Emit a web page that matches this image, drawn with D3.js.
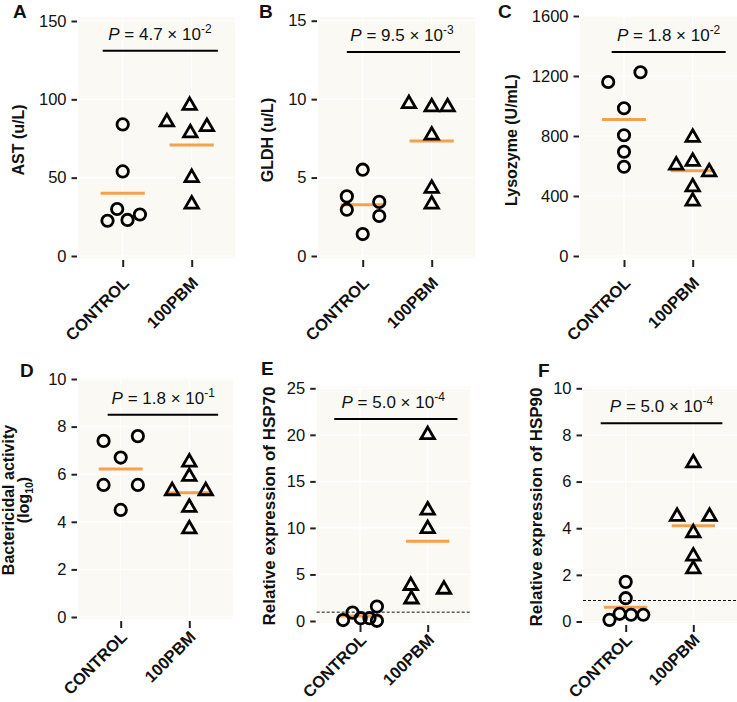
<!DOCTYPE html>
<html>
<head>
<meta charset="utf-8">
<script src="https://cdn.jsdelivr.net/npm/d3@7"></script>
<style>
  html, body { margin: 0; padding: 0; background: #fff; }
  #chart { width: 737px; height: 702px; }
  text { font-family: "Liberation Sans", Arial, sans-serif; fill: #111; }
</style>
</head>
<body>
<div id="chart"></div>
<script>
const categories = ["CONTROL", "100PBM"];
const panelLetters = ["A", "B", "C", "D", "E", "F"];
const yTitles = [
  ["AST (u/L)"],
  ["GLDH (u/L)"],
  ["Lysozyme (U/mL)"],
  ["Bactericidal activity", "(log10)"],
  ["Relative expression of HSP70"],
  ["Relative expression of HSP90"],
];
const yTicks = [
  [0, 50, 100, 150],
  [0, 5, 10, 15],
  [0, 400, 800, 1200, 1600],
  [0, 2, 4, 6, 8, 10],
  [0, 5, 10, 15, 20, 25],
  [0, 2, 4, 6, 8, 10],
];

// measured values, [CONTROL, 100PBM]
const astValues = [[84, 54, 30, 22.5, 23, 26.5], [96, 85.5, 78.5, 82.5, 50, 33]];
const gldhValues = [[5.5, 3.8, 2.95, 3.45, 2.55, 1.4], [9.7, 9.5, 9.5, 7.7, 4.3, 3.3]];
const lysozymeValues = [[1160, 1225, 985, 805, 695, 595], [790, 605, 630, 560, 460, 365]];
const bactericidalValues = [[7.4, 7.6, 6.7, 5.55, 5.55, 4.5], [6.5, 5.9, 5.3, 5.3, 4.6, 3.7]];
const hsp70Values = [[0.1, 0.9, 0.3, 0.3, 1.55, 0.02], [20, 11.9, 9.9, 3.8, 2.35, 3.4]];
const hsp90Values = [[1.7, 1.0, 0.07, 0.33, 0.29, 0.29], [6.8, 4.5, 4.5, 3.8, 2.8, 2.25]];

// horizontal dodge of each point, in category units
const astDodge = [[0, 0, -0.08, -0.22, 0.07, 0.25], [-0.03, -0.36, -0.02, 0.22, 0, 0]];
const gldhDodge = [[0, -0.23, -0.23, 0.24, 0.24, 0], [-0.33, 0, 0.23, 0, 0, 0]];
const lysozymeDodge = [[-0.23, 0.24, 0, 0, 0, 0], [0, -0.24, 0, 0.24, 0, 0]];
const bactericidalDodge = [[-0.25, 0.25, 0, -0.25, 0.25, 0], [0, 0, -0.25, 0.24, 0, 0]];
const hsp70Dodge = [[-0.25, -0.11, 0.01, 0.14, 0.25, 0.25], [0, 0, 0, -0.25, -0.24, 0.24]];
const hsp90Dodge = [[0, 0, -0.24, -0.09, 0.08, 0.26], [0, -0.24, 0.24, 0, 0, 0]];

const panelValues = [astValues, gldhValues, lysozymeValues, bactericidalValues, hsp70Values, hsp90Values];
const panelDodge = [astDodge, gldhDodge, lysozymeDodge, bactericidalDodge, hsp70Dodge, hsp90Dodge];

const pMantissa = ["4.7", "9.5", "1.8", "1.8", "5.0", "5.0"];
const pExponent = ["-2", "-3", "-2", "-1", "-4", "-4"];
const sigLineY = [131, 13, 1360, 8.5, 21.7, 8.5];
const sigLineSpan = [[0.71, 2.38], [0.77, 2.41], [0.82, 2.48], [0.81, 2.42], [0.62, 2.44], [0.63, 2.43]];
const pTextX = [1.54, 1.57, 1.65, 1.62, 1.49, 1.53];
const refLineY = [null, null, null, null, 0.95, 0.9];

// page layout of each panel (pixels)
const layout = [
  { x0: 78, x1: 235, top: 17, bottom: 258, zeroY: 256, maxY: 21, cx: [122.7, 191.7], titleX: [18], titleY: 140, letter: [13, 18], labelDy: 24, titleSize: 16 },
  { x0: 318, x1: 475, top: 17, bottom: 258, zeroY: 256, maxY: 20.7, cx: [362.7, 431.7], titleX: [267], titleY: 140, letter: [259, 18], labelDy: 24, titleSize: 16 },
  { x0: 580, x1: 737, top: 16, bottom: 258, zeroY: 256, maxY: 16, cx: [624, 692.7], titleX: [511], titleY: 140, letter: [498, 18], labelDy: 24, titleSize: 16 },
  { x0: 78, x1: 233, top: 378, bottom: 619, zeroY: 617, maxY: 379, cx: [120.7, 189.3], titleX: [8, 23], titleY: 500, letter: [20, 377], labelDy: 17, titleSize: 16 },
  { x0: 316.7, x1: 470, top: 386.7, bottom: 623, zeroY: 621, maxY: 388.3, cx: [360, 427.7], titleX: [269], titleY: 506, letter: [261, 375], labelDy: 16, titleSize: 17 },
  { x0: 583, x1: 737, top: 386.7, bottom: 623, zeroY: 621.5, maxY: 388.3, cx: [625.7, 693.3], titleX: [536], titleY: 507, letter: [538, 377], labelDy: 16, titleSize: 17 },
];

const panelFill = "#FAF9F3";
const meanColor = "#F5A04E";

const svg = d3
  .select("#chart")
  .append("svg")
  .attr("width", 737)
  .attr("height", 702)
  .attr("viewBox", "0 0 737 702");

layout.forEach((L, i) => {
  const g = svg.append("g");
  const y = d3
    .scaleLinear()
    .domain([0, d3.max(yTicks[i])])
    .range([L.zeroY, L.maxY]);
  const x = d3.scaleLinear().domain([1, 2]).range(L.cx);

  g.append("rect")
    .attr("x", L.x0)
    .attr("y", L.top)
    .attr("width", L.x1 - L.x0)
    .attr("height", L.bottom - L.top)
    .attr("fill", panelFill);

  // grid
  g.selectAll(".hgrid")
    .data(yTicks[i])
    .join("line")
    .attr("x1", L.x0)
    .attr("x2", L.x1)
    .attr("y1", (d) => y(d))
    .attr("y2", (d) => y(d))
    .attr("stroke", "#fff")
    .attr("stroke-width", 1.2);
  g.selectAll(".vgrid")
    .data([1, 2])
    .join("line")
    .attr("x1", (d) => x(d))
    .attr("x2", (d) => x(d))
    .attr("y1", L.top)
    .attr("y2", L.bottom)
    .attr("stroke", "#fff")
    .attr("stroke-width", 1.2);

  // y axis
  const yAxis = g
    .append("g")
    .attr("transform", `translate(${L.x0 - 1},0)`)
    .call(
      d3
        .axisLeft(y)
        .tickValues(yTicks[i])
        .tickFormat(d3.format("d"))
        .tickSize(5.5)
        .tickPadding(5),
    );
  yAxis.select(".domain").remove();
  yAxis.selectAll("line").attr("stroke", "#222").attr("stroke-width", 2);
  yAxis
    .selectAll("text")
    .style("font-family", '"Liberation Sans", Arial, sans-serif')
    .style("font-size", "16.5px")
    .attr("fill", "#111");

  // x axis
  const xAxis = g
    .append("g")
    .attr("transform", `translate(0,${L.bottom + 2})`)
    .call(
      d3
        .axisBottom(x)
        .tickValues([1, 2])
        .tickSize(7)
        .tickFormat((d) => categories[d - 1]),
    );
  xAxis.select(".domain").remove();
  xAxis.selectAll("line").attr("stroke", "#222").attr("stroke-width", 2);
  xAxis
    .selectAll("text")
    .attr("x", 0)
    .attr("y", 0)
    .attr("dy", 0)
    .attr("transform", `translate(7,${L.labelDy}) rotate(-45)`)
    .attr("text-anchor", "end")
    .style("font-family", '"Liberation Sans", Arial, sans-serif')
    .style("font-size", "16.5px")
    .style("font-weight", "bold")
    .attr("fill", "#111");

  // y title
  const title = g
    .append("text")
    .attr("transform", `translate(0,${L.titleY}) rotate(-90)`)
    .attr("text-anchor", "middle")
    .style("font-size", `${L.titleSize}px`)
    .style("font-weight", "bold");
  yTitles[i].forEach((line, k) => {
    const t = title
      .append("tspan")
      .attr("x", 0)
      .attr("y", L.titleX[k])
      .attr("dy", "0.36em");
    const m = line.match(/^\(log(\d+)\)$/);
    if (m) {
      t.text("(log");
      title.append("tspan").attr("dy", "4").style("font-size", "10.5px").text(m[1]);
      title.append("tspan").attr("dy", "-4").text(")");
    } else {
      t.text(line);
    }
  });

  // panel letter
  g.append("text")
    .attr("x", L.letter[0])
    .attr("y", L.letter[1])
    .style("font-size", "19px")
    .style("font-weight", "bold")
    .text(panelLetters[i]);

  // reference line
  if (refLineY[i] != null) {
    g.append("line")
      .attr("x1", L.x0)
      .attr("x2", L.x1)
      .attr("y1", y(refLineY[i]))
      .attr("y2", y(refLineY[i]))
      .attr("stroke", "#111")
      .attr("stroke-width", 1)
      .attr("stroke-dasharray", "3,2");
  }

  // means
  g.selectAll(".mean")
    .data(panelValues[i])
    .join("line")
    .attr("x1", (d, k) => x(k + 1 - 0.32))
    .attr("x2", (d, k) => x(k + 1 + 0.32))
    .attr("y1", (d) => y(d3.mean(d)))
    .attr("y2", (d) => y(d3.mean(d)))
    .attr("stroke", meanColor)
    .attr("stroke-width", 3);

  // points
  const pts = [];
  panelValues[i].forEach((vals, k) =>
    vals.forEach((v, j) => pts.push({ group: k, v, dx: panelDodge[i][k][j] })),
  );
  const circle = d3.symbol().type(d3.symbolCircle).size(Math.PI * 5.7 * 5.7);
  const tri = d3.symbol().type(d3.symbolTriangle).size(78);
  g.selectAll(".pt")
    .data(pts)
    .join("path")
    .attr("d", (d) => (d.group === 0 ? circle() : tri()))
    .attr("transform", (d) => `translate(${x(d.group + 1 + d.dx)},${y(d.v)})`)
    .attr("fill", "none")
    .attr("stroke", "#000")
    .attr("stroke-width", 2.8)
    .attr("stroke-linejoin", "miter");

  // significance bar
  g.append("line")
    .attr("x1", x(sigLineSpan[i][0]))
    .attr("x2", x(sigLineSpan[i][1]))
    .attr("y1", y(sigLineY[i]))
    .attr("y2", y(sigLineY[i]))
    .attr("stroke", "#000")
    .attr("stroke-width", 2);

  const p = g
    .append("text")
    .attr("x", x(pTextX[i]))
    .attr("y", y(sigLineY[i]) - 11)
    .attr("text-anchor", "middle")
    .style("font-size", "17px");
  p.append("tspan").style("font-style", "italic").text("P");
  p.append("tspan").text(` = ${pMantissa[i]} \u00d7 10`);
  p.append("tspan").attr("dy", -7).style("font-size", "12px").text(pExponent[i]);
});
</script>
</body>
</html>
